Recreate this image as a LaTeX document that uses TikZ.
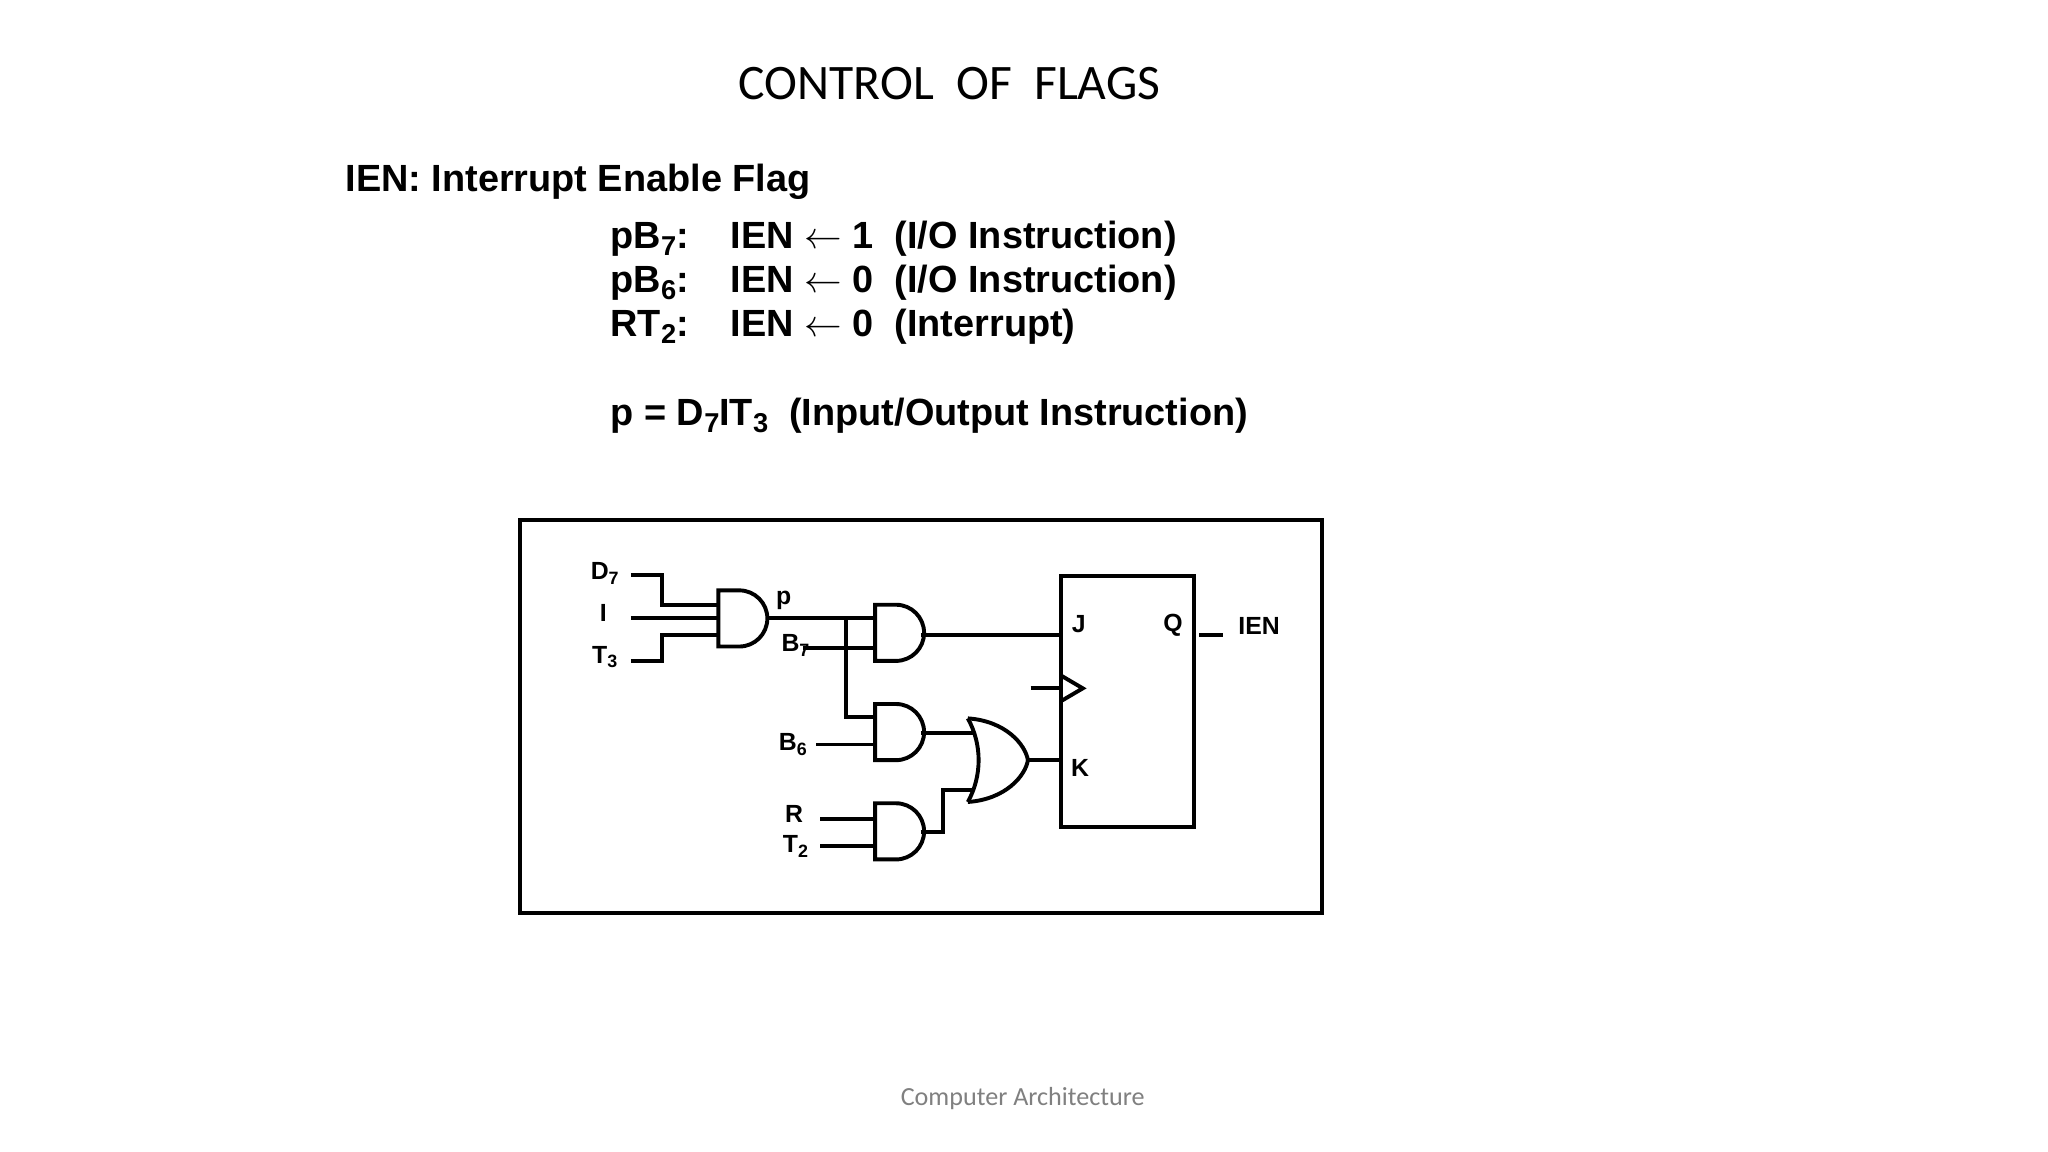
\documentclass[tikz,border=0pt]{standalone}
\usepackage{fontspec}
\setmainfont{Liberation Sans}
\newfontfamily\carlfont{Carlito}
\newcommand\lo[1]{\raisebox{-0.35ex}{\fontsize{0.72em}{1em}\selectfont #1}}
\begin{document}
\begin{tikzpicture}[x=0.5pt,y=-0.5pt,line width=1.5pt,
  hdr/.style={anchor=base west,font=\fontsize{14.5pt}{17pt}\selectfont\bfseries,inner sep=0pt},
  lab/.style={font=\fontsize{9.5pt}{11pt}\selectfont\bfseries,inner sep=0pt},
  andg/.pic={\draw[line width=1.5pt] (0,0) -- (16,0) arc[start angle=90,end angle=-90,radius=10.75pt] -- (0,43) -- cycle;}]
\useasboundingbox[fill=white] (0,0) rectangle (1568,882);
\node[font=\carlfont\fontsize{19pt}{22pt}\selectfont] (title) at (727,64) {CONTROL\ \ OF\ \ FLAGS};
\node[hdr] (h) at (263,147) {IEN: Interrupt Enable Flag};
\node[hdr] (r1a) at (466,190) {pB\lo{7}:};
\node[hdr] (r1b) at (558,190) {IEN $\leftarrow$ 1\ \ (I/O Instruction)};
\node[hdr] (r2a) at (466,224) {pB\lo{6}:};
\node[hdr] (r2b) at (558,224) {IEN $\leftarrow$ 0\ \ (I/O Instruction)};
\node[hdr] (r3a) at (466,258) {RT\lo{2}:};
\node[hdr] (r3b) at (558,258) {IEN $\leftarrow$ 0\ \ (Interrupt)};
\node[hdr] (r4) at (466,326) {p = D\lo{7}IT\lo{3}\ \ (Input/Output Instruction)};
\node[font=\carlfont\fontsize{10pt}{12pt}\selectfont,text=gray] (foot) at (783,841) {Computer Architecture};
\draw (398,398) rectangle (1012,699);
% labels
\node[lab] (d7) at (463,439) {D\lo{7}};
\node[lab] (i) at (462,469) {I};
\node[lab] (t3) at (463,503) {T\lo{3}};
\node[lab] (p) at (600,460) {p};
\node[lab] (b7) at (609,494) {B\lo{7}};
\node[lab] (b6) at (607,570) {B\lo{6}};
\node[lab] (r) at (608,623) {R};
\node[lab] (t2) at (609,648) {T\lo{2}};
% gates
\pic at (550,452) {andg};
\pic at (670,463) {andg};
\pic at (670,539) {andg};
\pic at (670,615) {andg};
\draw (741,550) .. controls (752,570) and (752,594) .. (741,614);
\draw (741,550) .. controls (770,552) and (785,570) .. (787,582);
\draw (741,614) .. controls (770,612) and (785,594) .. (787,582);
% wires
\draw (483,440) -- (507,440) -- (507,463) -- (550,463);
\draw (483,473) -- (550,473);
\draw (483,506) -- (507,506) -- (507,486) -- (550,486);
\draw (587,473) -- (670,473);
\draw (615,496) -- (670,496);
\draw (648,473) -- (648,549) -- (670,549);
\draw (625,570) -- (670,570);
\draw (628,627) -- (670,627);
\draw (628,648) -- (670,648);
\draw (705,486) -- (812,486);
\draw (705,561) -- (746,561);
\draw (705,637) -- (722,637) -- (722,605) -- (746,605);
\draw (787,582) -- (812,582);
% flip-flop
\draw (812,441) rectangle (914,633);
\draw (812,517) -- (829,527) -- (812,537);
\draw (789,527) -- (812,527);
\node[lab] (j) at (826,478) {J};
\node[lab] (k) at (827,588) {K};
\node[lab] (q) at (898,479) {Q};
\draw (918,486) -- (936,486);
\node[lab] (ien) at (964,479) {IEN};
\end{tikzpicture}
\end{document}
